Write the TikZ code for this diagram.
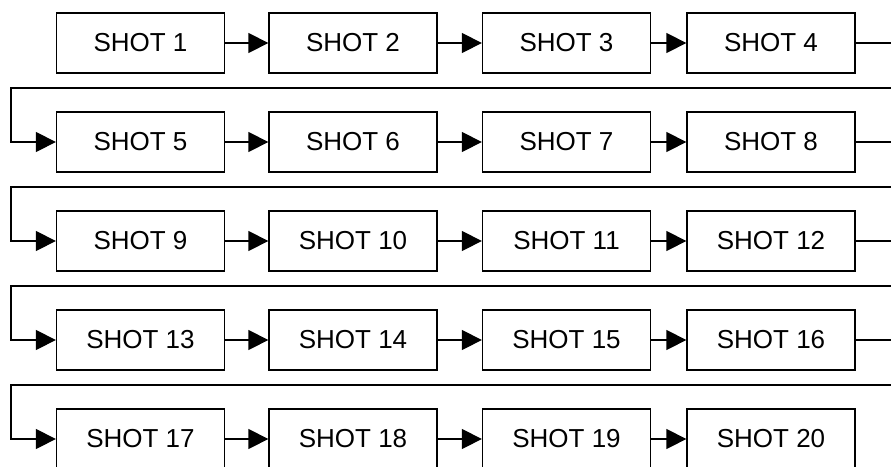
\documentclass[tikz,border=0pt]{standalone}
\usepackage{fontspec}
\setmainfont{Liberation Sans}
\usepackage{tikz}
\usetikzlibrary{arrows.meta,positioning,calc}

\begin{document}
\begin{tikzpicture}[x=1pt,y=-1pt,line width=1.3pt,
  shotbox/.style={draw,minimum width=168pt,minimum height=60pt,inner sep=0pt,
    font=\fontsize{26}{30}\selectfont},
  arr/.style={-{Triangle[length=20pt,width=20pt]}}]
  \def\xl{11}   % left return line
  \def\xr{905}  % right return line (off the page)
  \useasboundingbox (0,0) rectangle (891,466);
  \clip (0,0) rectangle (891,466);
  % boxes, four per row
  \foreach \r in {0,...,4}{
    \foreach \c/\x in {1/140.5,2/353,3/566.5,4/771}{
      \pgfmathtruncatemacro{\n}{4*\r+\c}
      \node[shotbox] (s\n) at (\x,43+99*\r) {SHOT \n};
    }
  }
  % arrows inside a row
  \foreach \r in {0,...,4}{
    \foreach \c in {1,2,3}{
      \pgfmathtruncatemacro{\a}{4*\r+\c}
      \pgfmathtruncatemacro{\b}{\a+1}
      \draw[arr] (s\a.east) -- (s\b.west);
    }
  }
  % arrows from one row to the next
  \foreach \r in {1,...,4}{
    \pgfmathtruncatemacro{\a}{4*\r}
    \pgfmathtruncatemacro{\b}{\a+1}
    \pgfmathsetmacro{\ym}{88+99*(\r-1)}
    \draw[arr] (s\a.east) -| (\xr,\ym) -- (\xl,\ym) |- (s\b.west);
  }
\end{tikzpicture}
\end{document}
